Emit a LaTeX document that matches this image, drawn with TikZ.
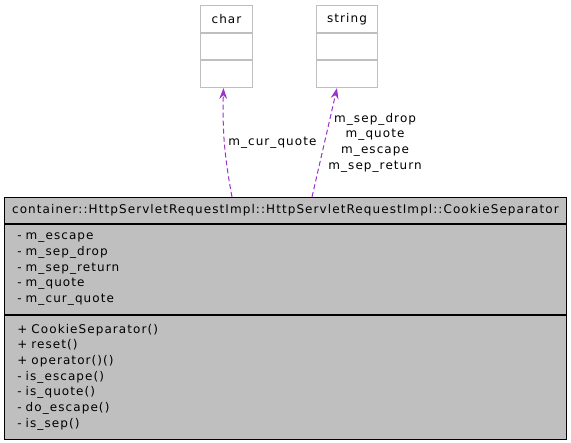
\documentclass[tikz,border=0pt]{standalone}
\usepackage{fontspec}
\setmainfont{DejaVu Sans}[LetterSpace=9]
\usetikzlibrary{arrows.meta, positioning}

\definecolor{boxgray}{RGB}{191,191,191}
\definecolor{edgepurple}{RGB}{154,50,205}

\begin{document}
\begin{tikzpicture}[x=1pt, y=-1pt, node distance=0pt,
    every node/.style={font=\fontsize{12}{15.7}\selectfont},
    member/.style={draw=black, line width=0.8pt, fill=boxgray, text width=536pt, inner xsep=13pt, inner ysep=0pt, align=left},
    typebox/.style={draw=boxgray, line width=1pt, fill=white, minimum height=26.7pt, inner sep=0pt},
    usage/.style={-{Stealth[length=11pt, width=8pt, inset=4pt]}, draw=edgepurple, line width=1pt, dash pattern=on 5pt off 3pt}]
    \useasboundingbox (0,0) rectangle (571,443);

    % used types
    \node (charname) [typebox, minimum width=52pt, anchor=north west] at (200,5) {char};
    \node (charattr) [typebox, minimum width=52pt, below=of charname] {};
    \node (charops) [typebox, minimum width=52pt, below=of charattr] {};

    \node (stringname) [typebox, minimum width=61pt, anchor=north west] at (316,5) {string};
    \node (stringattr) [typebox, minimum width=61pt, below=of stringname] {};
    \node (stringops) [typebox, minimum width=61pt, below=of stringattr] {};

    % the class
    \node (sep) [member, text width=554pt, inner xsep=4pt, align=center, minimum height=26pt, anchor=north west] at (4,197)
        {container::HttpServletRequestImpl::HttpServletRequestImpl::CookieSeparator};
    \node (sepattr) [member, minimum height=90pt, below=of sep]
        {- m\_escape\\- m\_sep\_drop\\- m\_sep\_return\\- m\_quote\\- m\_cur\_quote};
    \node (sepops) [member, minimum height=124pt, below=of sepattr]
        {+ CookieSeparator()\\+ reset()\\+ operator()()\\- is\_escape()\\- is\_quote()\\- do\_escape()\\- is\_sep()};

    \draw[usage] ([xshift=228pt]sep.north west) to[bend left=6] node[right] {m\_cur\_quote} ([xshift=-3pt]charops.south);
    \draw[usage] ([xshift=308pt]sep.north west) -- node[right, align=center] {m\_sep\_drop\\m\_quote\\m\_escape\\m\_sep\_return} ([xshift=-10pt]stringops.south);
\end{tikzpicture}
\end{document}
